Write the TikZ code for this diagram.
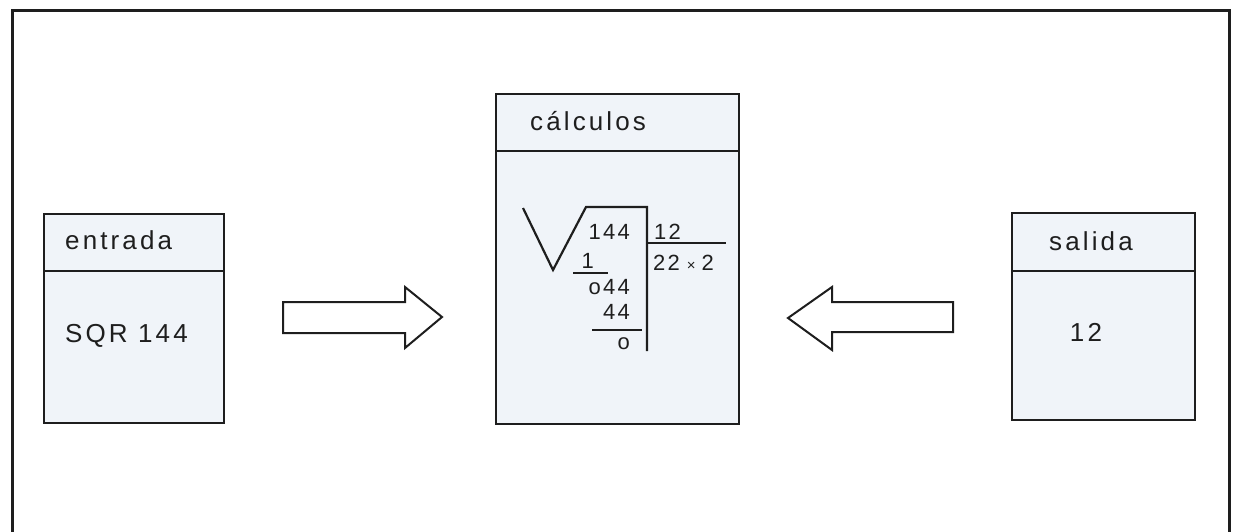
\documentclass[tikz,border=0pt]{standalone}
\usepackage{fontspec}
\setmainfont{Liberation Sans}[LetterSpace=12]
\definecolor{boxfill}{RGB}{240,244,249}
\definecolor{ink}{RGB}{30,30,30}
\tikzset{
  panel/.style={draw=ink, line width=2.2pt, fill=boxfill, inner sep=0pt},
  label/.style={inner sep=0pt, text=ink, font=\fontsize{26}{30}\selectfont},
  dig/.style={inner sep=0pt, text=ink, font=\fontsize{22}{26}\selectfont\addfontfeature{LetterSpace=10}},
  rule/.style={draw=ink, line width=2pt},
  blockarrow/.style={draw=ink, line width=2pt, fill=white, line join=miter}
}
\begin{document}
\begin{tikzpicture}[x=1pt,y=-1pt]
\useasboundingbox (0,0) rectangle (1233,532);
% outer frame
\coordinate (fbl) at (12,532);
\coordinate (ftl) at (12,11);
\coordinate (ftr) at (1229,11);
\coordinate (fbr) at (1229,532);
\draw[draw=ink, line width=3pt] (fbl) -- (ftl) -- (ftr) -- (fbr);

% entrada box
\node[panel, minimum width=180pt, minimum height=209pt, anchor=north west] (ent) at (43,213) {};
\coordinate (entdl) at (43,271); \coordinate (entdr) at (223,271);
\draw[rule] (entdl) -- (entdr);
\node[label, anchor=base west] (entt) at (65,249) {entrada};
\node[label, anchor=base west] (ento) at (65,342) {SQR 144};

% salida box
\node[panel, minimum width=183pt, minimum height=207pt, anchor=north west] (sal) at (1011,212) {};
\coordinate (saldl) at (1011,271); \coordinate (saldr) at (1194,271);
\draw[rule] (saldl) -- (saldr);
\node[label, anchor=base] (salt) at (1091,250) {salida};
\node[label, anchor=base] (salo) at (1086,341) {12};

% calculos box
\node[panel, minimum width=243pt, minimum height=330pt, anchor=north west] (cal) at (495,93) {};
\coordinate (caldl) at (495,151); \coordinate (caldr) at (738,151);
\draw[rule] (caldl) -- (caldr);
\node[label, anchor=base west] (calt) at (530,131) {cálculos};

% square root computation
\coordinate (r1) at (523,208);
\coordinate (r2) at (553,270);
\coordinate (r3) at (586,207);
\coordinate (r4) at (647,207);
\coordinate (r5) at (647,351);
\draw[rule, line width=2.2pt, line join=miter] (r1) -- (r2) -- (r3) -- (r4) -- (r5);
\node[dig, anchor=base east] (n144) at (630,239) {144};
\node[dig, anchor=base west] (n12) at (654,239) {12};
\coordinate (q1) at (647,243); \coordinate (q2) at (726,243);
\draw[rule] (q1) -- (q2);
\node[dig, anchor=base west] (n22) at (653,270) {22\hspace{7pt}{\fontsize{15}{18}\selectfont ×}\hspace{6pt}2};
\node[dig, anchor=base east] (n1) at (594,268) {1};
\coordinate (u1) at (573,273); \coordinate (u2) at (608,273);
\draw[rule] (u1) -- (u2);
\node[dig, anchor=base east] (n044) at (630,294) {o44};
\node[dig, anchor=base east] (n44) at (630,319) {44};
\coordinate (w1) at (592,330); \coordinate (w2) at (642,330);
\draw[rule] (w1) -- (w2);
\node[dig, anchor=base east] (n0) at (630,349) {o};

% arrows
\draw[blockarrow] (283,302) -- (405,302) -- (405,287) -- (442,317) -- (405,348) -- (405,333) -- (283,333) -- cycle;
\draw[blockarrow] (953,302) -- (832,302) -- (832,287) -- (788,318) -- (832,350) -- (832,332) -- (953,332) -- cycle;
\end{tikzpicture}
\end{document}
